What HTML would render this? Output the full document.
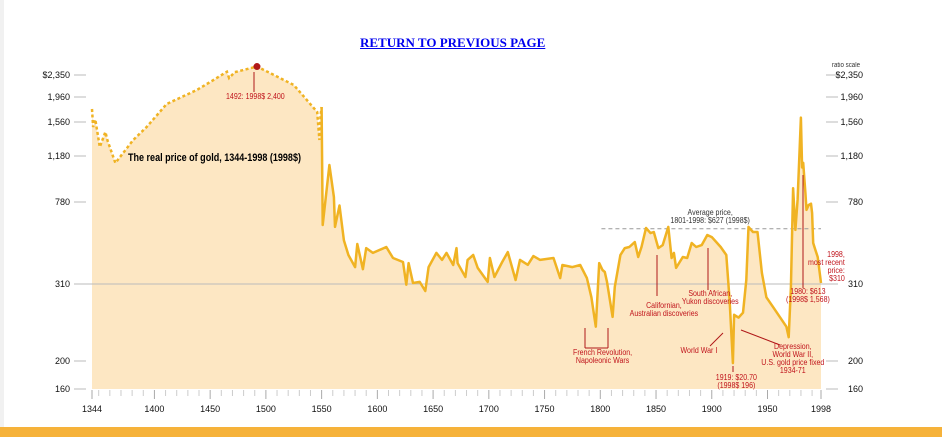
<!DOCTYPE html>
<html><head><meta charset="utf-8">
<style>
html,body{margin:0;padding:0;background:#fff;}
#wrap{position:relative;width:942px;height:437px;overflow:hidden;background:#fff;font-family:"Liberation Sans",sans-serif;}
.ann{position:absolute;color:#c0141c;font-size:8px;line-height:8px;text-align:center;white-space:nowrap;font-family:"Liberation Sans Narrow","Liberation Sans",sans-serif;transform:scaleX(0.88);transform-origin:center top;}
#title-link{position:absolute;left:360px;top:35px;font-family:"Liberation Serif",serif;font-weight:bold;font-size:13px;color:#0000ee;text-decoration:underline;}
#band{position:absolute;left:0;top:427px;width:942px;height:10px;background:#f6b23a;}
#leftedge{position:absolute;left:0;top:0;width:4px;height:427px;background:#f1f1f1;}
</style></head>
<body>
<div id="wrap">
<div id="leftedge"></div>
<a id="title-link">RETURN TO PREVIOUS PAGE</a>
<svg id="chart" width="942" height="437" style="position:absolute;left:0;top:0"></svg>
<div class="ann" style="left:128px;top:152px;color:#000;font-weight:bold;font-size:11px;line-height:12px;transform:scaleX(0.82);transform-origin:left top;">The real price of gold, 1344-1998 (1998$)</div>
<div class="ann" style="left:222px;top:93px;">1492: 1998$ 2,400</div>
<div class="ann" style="left:665px;top:209px;color:#333;">Average price,<br>1801-1998: $627 (1998$)</div>
<div class="ann" style="left:625px;top:302px;">Californian,<br>Australian discoveries</div>
<div class="ann" style="left:678px;top:290px;">South African,<br>Yukon discoveries</div>
<div class="ann" style="left:569px;top:349px;">French Revolution,<br>Napoleonic Wars</div>
<div class="ann" style="left:678px;top:347px;">World War I</div>
<div class="ann" style="left:713px;top:374px;">1919: $20.70<br>(1998$ 196)</div>
<div class="ann" style="left:757px;top:343px;">Depression,<br>World War II,<br>U.S. gold price fixed<br>1934-71</div>
<div class="ann" style="left:783px;top:288px;">1980: $613<br>(1998$ 1,568)</div>
<div class="ann" style="right:97px;top:251px;text-align:right;transform-origin:right top;">1998,<br>most recent<br>price:<br>$310</div>
<div class="ann" style="left:830px;top:62px;color:#333;font-size:7px;">ratio scale</div>
<div id="band"></div>
</div>
<script>
const yTickValues=[160,200,310,780,1180,1560,1960,2350];
const yTickLabels=["160","200","310","780","1,180","1,560","1,960","$2,350"];
const xTickLabels=[1344,1400,1450,1500,1550,1600,1650,1700,1750,1800,1850,1900,1950,1998];
const dottedYears=[1344,1345,1347,1351,1356,1358,1365,1381,1393,1411,1438,1453,1465,1467,1472,1492,1525,1546,1548,1549];
const dottedValues=[1768,1504,1600,1281,1448,1350,1119,1359,1504,1848,2084,2261,2408,2297,2400,2500,2173,1720,1359,1650];
const solidYears=[1550,1551,1557,1561,1562,1566,1570,1574,1580,1582,1587,1590,1596,1608,1614,1623,1626,1628,1632,1638,1643,1646,1653,1658,1662,1668,1671,1672,1679,1681,1686,1690,1699,1701,1705,1712,1717,1724,1728,1735,1740,1746,1758,1764,1766,1775,1782,1788,1792,1796,1799,1802,1804,1806,1811,1813,1818,1822,1826,1831,1834,1837,1841,1845,1848,1852,1856,1861,1864,1866,1868,1874,1878,1882,1886,1891,1896,1900,1908,1913,1916,1919,1920,1924,1928,1931,1933,1937,1941,1945,1949,1955,1961,1967,1969,1971,1973,1975,1977,1980,1981,1982,1984,1985,1987,1989,1990,1991,1993,1995,1998];
const solidValues=[1800,648,1102,823,637,760,560,476,407,539,395,516,488,522,459,436,309,430,316,322,300,407,488,448,488,419,516,430,350,448,476,402,322,459,350,436,493,333,448,420,470,448,459,344,419,407,419,344,291,249,430,390,379,322,263,306,476,516,522,550,465,522,631,602,608,516,533,637,459,488,402,465,459,545,522,533,591,579,522,476,287,197,266,262,269,333,637,608,608,373,291,277,263,249,234,305,900,620,800,1630,1080,1120,860,735,763,770,717,545,505,465,316];
const avgValue=627;

const tickPx=[389,361,284,202,156,122,97,75];
function yPos(v){
  if(v<=yTickValues[0])return tickPx[0]-(v-yTickValues[0])*0.7;
  for(let i=0;i<yTickValues.length-1;i++){
    if(v<=yTickValues[i+1]){const t=(v-yTickValues[i])/(yTickValues[i+1]-yTickValues[i]);return tickPx[i]+t*(tickPx[i+1]-tickPx[i]);}
  }
  const n=yTickValues.length-1;return tickPx[n]-(v-yTickValues[n])*0.0564;
}
function xPos(yr){return 92+(yr-1344)*(729/654);}
const NS="http://www.w3.org/2000/svg";
const svg=document.getElementById('chart');
function mk(tag,attrs){const e=document.createElementNS(NS,tag);for(const k in attrs)e.setAttribute(k,attrs[k]);svg.appendChild(e);return e;}
const BASE=389;
let allY=dottedYears.concat(solidYears),allV=dottedValues.concat(solidValues);
let d="M"+xPos(allY[0])+","+BASE;
for(let i=0;i<allY.length;i++)d+=" L"+xPos(allY[i]).toFixed(1)+","+yPos(allV[i]).toFixed(1);
d+=" L"+xPos(1998)+","+BASE+" Z";
const area=mk('path',{d:d,fill:'#fde7c3'});


const ref=mk('line',{x1:80,x2:830,y1:yPos(310),y2:yPos(310),stroke:'#bbb','stroke-width':1});


const avg=mk('line',{x1:xPos(1801),x2:xPos(1998),y1:yPos(avgValue),y2:yPos(avgValue),stroke:'#999','stroke-width':1,'stroke-dasharray':'4,3'});


let dd="";
for(let i=0;i<dottedYears.length;i++)dd+=(i?" L":"M")+xPos(dottedYears[i]).toFixed(1)+","+yPos(dottedValues[i]).toFixed(1);
dd+=" L"+xPos(solidYears[0]).toFixed(1)+","+yPos(solidValues[0]).toFixed(1);
const dl=mk('path',{d:dd,fill:'none',stroke:'#f0b323','stroke-width':2.5,'stroke-dasharray':'3,2.5'});


let sd="";
for(let i=0;i<solidYears.length;i++)sd+=(i?" L":"M")+xPos(solidYears[i]).toFixed(1)+","+yPos(solidValues[i]).toFixed(1);
const sl=mk('path',{d:sd,fill:'none',stroke:'#f0b323','stroke-width':2.5,'stroke-linejoin':'round'});


const pk=mk('circle',{cx:xPos(1492),cy:yPos(2500),r:3.5,fill:'#b01818'});


for(let i=0;i<yTickValues.length;i++){
  const y=yPos(yTickValues[i]);
  const tl=mk('line',{x1:74,x2:86,y1:y,y2:y,stroke:'#bbb'});
  
  
  const tr=mk('line',{x1:826,x2:838,y1:y,y2:y,stroke:'#bbb'});
  
  
  const a=mk('text',{x:70,y:y+3,'text-anchor':'end','font-size':9,fill:'#111','font-family':'Liberation Sans Narrow, Liberation Sans, sans-serif'});
  a.textContent=yTickLabels[i];
  
  
  const b=mk('text',{x:863,y:y+3,'text-anchor':'end','font-size':9,fill:'#111','font-family':'Liberation Sans Narrow, Liberation Sans, sans-serif'});
  b.textContent=yTickLabels[i];
  
  
}
const minor=[1344];for(let y=1350;y<=1990;y+=10)minor.push(y);minor.push(1998);
minor.forEach(yr=>{const major=xTickLabels.indexOf(yr)>=0;
  const t=mk('line',{x1:xPos(yr),x2:xPos(yr),y1:390,y2:major?399:396,stroke:major?'#aaa':'#ccc'});
  
  });
xTickLabels.forEach(yr=>{
  const t=mk('text',{x:xPos(yr),y:412,'text-anchor':'middle','font-size':9,fill:'#111','font-family':'Liberation Sans Narrow, Liberation Sans, sans-serif'});
  t.textContent=yr;
  
  });
const R='#b01818';
function ln(x1,y1,x2,y2,name){const l=mk('line',{x1:x1,y1:y1,x2:x2,y2:y2,stroke:R,'stroke-width':1});
  
  }
ln(254,72,254,92,'peak-arrow');
ln(657,255,657,296,'californian-arrow');
ln(708,248,708,290,'south-african-arrow');
ln(585,328,585,348,'french-bracket-left');
ln(608,328,608,348,'french-bracket-right');
ln(585,348,608,348,'french-bracket-bottom');
ln(710,346,723,333,'world-war-i-arrow');
ln(733,372,733,366,'1919-arrow');
ln(780,345,741,330,'depression-arrow');
ln(803,288,803,175,'1980-arrow');
</script>
</body></html>
